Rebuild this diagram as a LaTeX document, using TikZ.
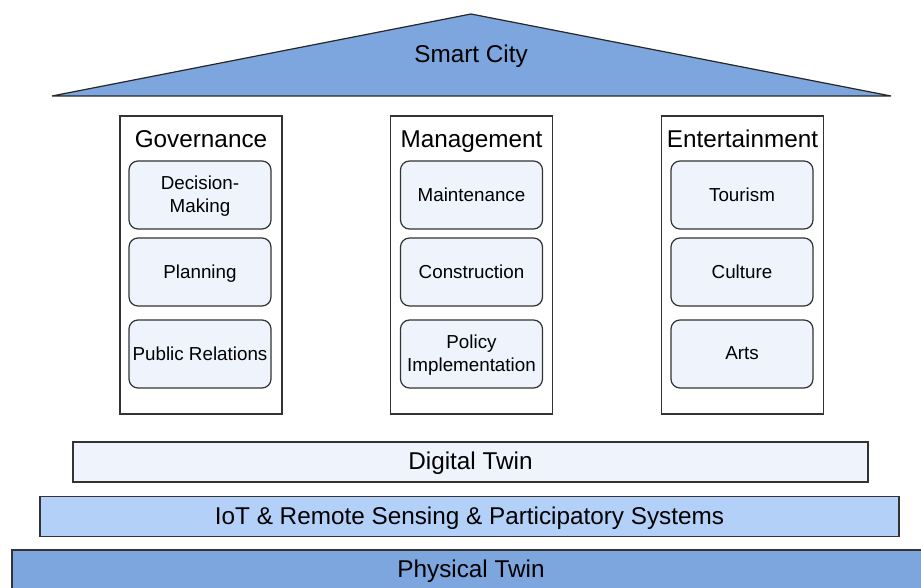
\documentclass[tikz,border=0pt]{standalone}
\usepackage{fontspec}
\setmainfont{Liberation Sans}
\usepackage{tikz}
\usetikzlibrary{shapes,backgrounds}

\definecolor{roofblue}{HTML}{7DA5DE}
\definecolor{midblue}{HTML}{B3D1F8}
\definecolor{paleblue}{HTML}{EEF3FC}

\begin{document}
\begin{tikzpicture}[x=1pt, y=-1pt, line width=1.2pt,
    big/.style={font=\fontsize{24.3}{28}\selectfont, text=black,
      text height=17.5pt, text depth=5pt},
    pillar/.style={rectangle, draw=black!80, fill=white,
      minimum width=162pt, minimum height=298pt},
    task/.style={rectangle, rounded corners=9pt, draw=black!80, fill=paleblue,
      minimum width=142pt, minimum height=68pt, align=center,
      font=\fontsize{18.8}{23.5}\selectfont, text depth=1.5pt},
    layer/.style={big, text depth=2pt, rectangle, draw=black!80, minimum height=40pt}]
  \useasboundingbox (0,0) rectangle (921,588);

  % roof
  \draw[fill=roofblue, draw=black!85] (52,96) -- (471,14) -- (891,96) -- cycle;
  \node[big] (city) at (471,56.5) {Smart City};

  % pillars
  \def \top {141.5}
  \foreach \name/\cx/\title in {gov/201/Governance, man/471.5/Management,
      ent/742.5/Entertainment} {
    \node[pillar] (\name) at (\cx,265) {};
    \node[big] (\name-title) at (\cx,\top) {\title};
  }
  \node[task] (gov1) at (200,195) {Decision-\\Making};
  \node[task] (gov2) at (200,272) {Planning};
  \node[task] (gov3) at (200,354) {Public Relations};
  \node[task] (man1) at (471.5,195) {Maintenance};
  \node[task] (man2) at (471.5,272) {Construction};
  \node[task] (man3) at (471.5,354) {Policy\\Implementation};
  \node[task] (ent1) at (742,195) {Tourism};
  \node[task] (ent2) at (742,272) {Culture};
  \node[task] (ent3) at (742,354) {Arts};

  % foundation layers
  \node[layer, fill=paleblue, minimum width=795pt] (digital) at (470.5,462) {Digital Twin};
  \node[layer, fill=midblue, minimum width=859pt] (iot) at (469.5,516.5)
    {IoT \& Remote Sensing \& Participatory Systems};
  \node[layer, fill=roofblue, minimum width=918pt] (physical) at (471,570) {Physical Twin};
\end{tikzpicture}
\end{document}
